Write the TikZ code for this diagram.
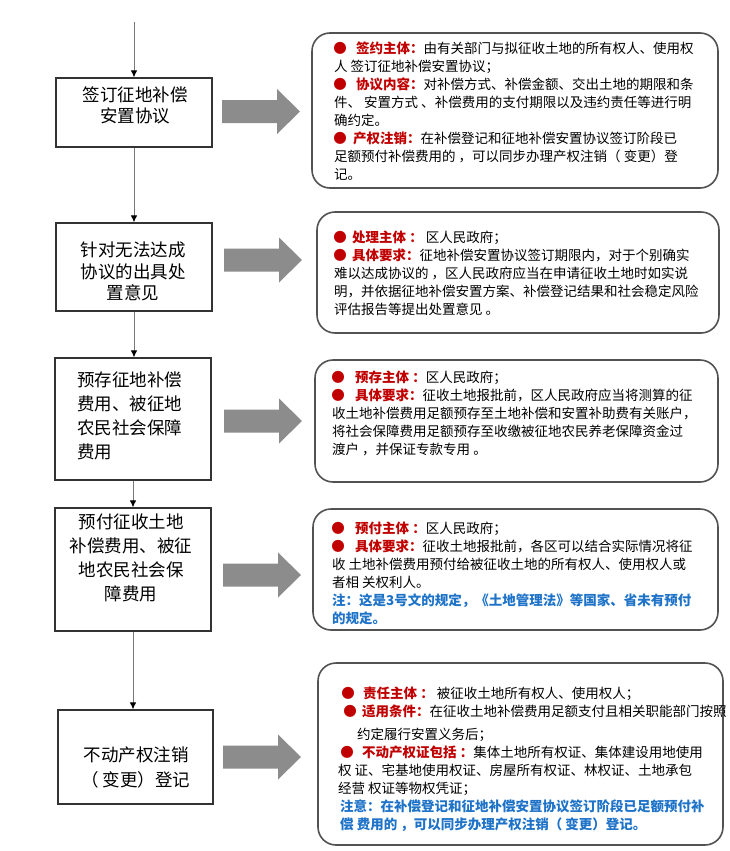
\documentclass[tikz,border=0pt]{standalone}
\usepackage{fontspec}
\setmainfont{Noto Sans CJK SC}
\usetikzlibrary{arrows.meta}
\definecolor{cred}{RGB}{192,0,0}
\definecolor{cblue}{RGB}{30,115,200}
\definecolor{agray}{RGB}{140,140,140}
\definecolor{lgray}{RGB}{120,120,120}
\newcommand{\bul}[1][22pt]{\makebox[#1][l]{\makebox[12pt][c]{\color{cred}●}}}
\newcommand{\lab}[1]{{\color{cred}\bfseries #1}}
\newcommand{\blu}[1]{{\color{cblue}\bfseries #1}}
\begin{document}
\begin{tikzpicture}[x=1pt,y=-1pt,
  stepbox/.style={draw=black!80, line width=1.2pt, fill=white, inner sep=0pt},
  infobox/.style={draw=black!68, line width=1.6pt, rounded corners=18pt, inner sep=0pt},
  ltext/.style={inner sep=0pt, font=\fontsize{17.5}{#1}\selectfont},
  rtext/.style={inner sep=0pt, anchor=north west, align=left, font=\fontsize{13.5}{18}\selectfont},
  conn/.style={draw=lgray, line width=0.9pt, -{Latex[length=7pt,width=6.5pt,color=black]}},
  bigarrow/.pic={\fill[agray] (0,-11.5) -- (55,-11.5) -- (55,-22.5) -- (78,0) -- (55,22.5) -- (55,11.5) -- (0,11.5) -- cycle;}
]
\useasboundingbox (0,0) rectangle (730,851);

% left step boxes
\node[stepbox, minimum width=156pt, minimum height=69pt]  (b1) at (134,112.5) {};
\node[stepbox, minimum width=156pt, minimum height=88pt]  (b2) at (134,267) {};
\node[stepbox, minimum width=156pt, minimum height=122pt] (b3) at (133,419) {};
\node[stepbox, minimum width=156pt, minimum height=123pt] (b4) at (133,569.5) {};
\node[stepbox, minimum width=155pt, minimum height=94pt]  (b5) at (135.5,757) {};

\node[ltext=21, align=center, anchor=north] (t1) at (135,87) {签订征地补偿\\安置协议};
\node[ltext=21.5, align=center, anchor=north] (t2) at (133,242) {针对无法达成\\协议的出具处\\置意见};
\node[ltext=24, align=left, anchor=north west] (t3) at (77,372) {预存征地补偿\\费用、被征地\\农民社会保障\\费用};
\node[ltext=23.7, align=center, anchor=north] (t4) at (131,514) {预付征收土地\\补偿费用、被征\\地农民社会保\\障费用};
\node[ltext=25, align=center, anchor=north] (t5) at (136,747) {不动产权注销\\（ 变更）登记};

% connectors
\coordinate (start) at (134,22);
\draw[conn] (start) -- (b1.north);
\draw[conn] (b1.south) -- (b1.south |- b2.north);
\draw[conn] (b2.south) -- (b2.south |- b3.north);
\draw[conn] (b3.south) -- (b3.south |- b4.north);
\draw[conn] (b4.south) -- (b4.south |- b5.north);

% big gray arrows
\pic at (222,111.5) {bigarrow};
\pic at (224,260) {bigarrow};
\pic at (224,421) {bigarrow};
\pic at (223,575) {bigarrow};
\pic at (223,757) {bigarrow};

% right info boxes
\node[infobox, minimum width=406pt, minimum height=155pt] (r1) at (515,110.5) {};
\node[infobox, minimum width=402pt, minimum height=121pt] (r2) at (518,272.5) {};
\node[infobox, minimum width=403pt, minimum height=122pt] (r3) at (516.5,421) {};
\node[infobox, minimum width=405pt, minimum height=121pt] (r4) at (515.5,569.5) {};
\node[infobox, minimum width=405pt, minimum height=182pt] (r5) at (520.5,754) {};

\node[rtext] (r1t) at (334,42) {\bul\lab{签约主体：}由有关部门与拟征收土地的所有权人、使用权\\
人 签订征地补偿安置协议；\\
\bul\lab{协议内容：}对补偿方式、补偿金额、交出土地的期限和条\\
件、 安置方式 、补偿费用的支付期限以及违约责任等进行明\\
确约定。\\
\bul[19pt]\lab{产权注销：}在补偿登记和征地补偿安置协议签订阶段已\\
足额预付补偿费用的 ，可以同步办理产权注销（ 变更）登\\
记。};

\node[rtext] (r2t) at (334,231) {\bul[18pt]\lab{处理主体 ：} 区人民政府；\\
\bul[18pt]\lab{具体要求：}征地补偿安置协议签订期限内，对于个别确实\\
难以达成协议的 ，区人民政府应当在申请征收土地时如实说\\
明，并依据征地补偿安置方案、补偿登记结果和社会稳定风险\\
评估报告等提出处置意见 。};

\node[rtext] (r3t) at (332,371) {\bul[23pt]\lab{预存主体 ：}区人民政府；\\
\bul[23pt]\lab{具体要求：}征收土地报批前，区人民政府应当将测算的征\\
收土地补偿费用足额预存至土地补偿和安置补助费有关账户，\\
将社会保障费用足额预存至收缴被征地农民养老保障资金过\\
渡户 ，并保证专款专用 。};

\node[rtext] (r4t) at (332,522) {\bul[23pt]\lab{预付主体 ：}区人民政府；\\
\bul[23pt]\lab{具体要求：}征收土地报批前，各区可以结合实际情况将征\\
收 土地补偿费用预付给被征收土地的所有权人、使用权人或\\
者相 关权利人。\\
\blu{注：这是3号文的规定，《土地管理法》等国家、省未有预付}\\
\blu{的规定。}};

\node[rtext] (r5t) at (338,687) {\hspace*{4pt}\bul[21pt]\lab{责任主体 ：} 被征收土地所有权人、使用权人；\\
\hspace*{6pt}\bul[18pt]\lab{适用条件：}在征收土地补偿费用足额支付且相关职能部门按照\\[5pt]
\hspace*{19pt}约定履行安置义务后；\\
\hspace*{3pt}\bul[21pt]\lab{不动产权证包括 ：}集体土地所有权证、集体建设用地使用\\
权 证、宅基地使用权证、房屋所有权证、林权证、土地承包\\
经营 权证等物权凭证；\\
\hspace*{2pt}\blu{注意：在补偿登记和征地补偿安置协议签订阶段已足额预付补}\\
\hspace*{2pt}\blu{偿 费用的 ，可以同步办理产权注销（ 变更）登记。}};
\end{tikzpicture}
\end{document}
